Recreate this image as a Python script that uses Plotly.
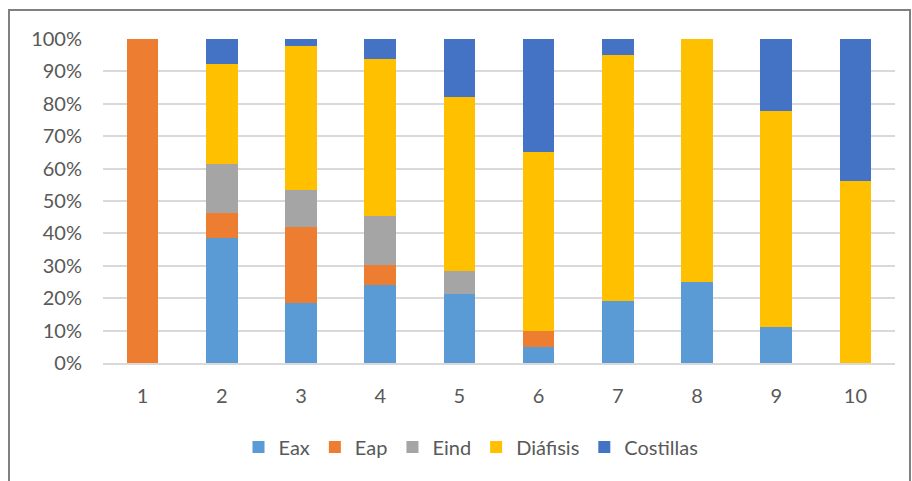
import plotly.graph_objects as go

categories = ["1", "2", "3", "4", "5", "6", "7", "8", "9", "10"]
eax = [0, 38.5, 18.6, 24.2, 21.4, 5.0, 19.0, 25.0, 11.1, 0]
eap = [100, 7.7, 23.3, 6.1, 0, 5.0, 0, 0, 0, 0]
eind = [0, 15.4, 11.6, 15.2, 7.1, 0, 0, 0, 0, 0]
diafisis = [0, 30.8, 44.2, 48.5, 53.6, 55.0, 76.2, 75.0, 66.7, 56.3]
costillas = [0, 7.7, 2.3, 6.1, 17.9, 35.0, 4.8, 0, 22.2, 43.8]

series = [
    ("Eax", eax, "#5B9BD5"),
    ("Eap", eap, "#ED7D31"),
    ("Eind", eind, "#A5A5A5"),
    ("Diáfisis", diafisis, "#FFC000"),
    ("Costillas", costillas, "#4472C4"),
]

fig = go.Figure()
for name, vals, col in series:
    fig.add_trace(go.Bar(
        x=categories, y=vals, name=name,
        marker=dict(color=col, line=dict(width=0)),
    ))

W, H = 912, 481
L, R, T, B = 103, 17, 39, 118
pw, ph = W - L - R, H - T - B

def px_x(p):
    return (p - L) / pw

def px_y(p):
    return (H - B - p) / ph

fig.update_layout(
    width=W, height=H,
    margin=dict(l=L, r=R, t=T, b=B, pad=0),
    barmode="stack", barnorm="percent", bargap=0.6,
    plot_bgcolor="white", paper_bgcolor="white",
    font=dict(family="Lato", size=20, color="#595959"),
    showlegend=True,
    legend=dict(orientation="h", x=px_x(471), xanchor="center",
                y=px_y(447), yanchor="middle", itemwidth=30,
                font=dict(size=20, color="#595959"), traceorder="normal"),
    xaxis=dict(showgrid=False, showline=True, linecolor="#d9d9d9", linewidth=1.5,
               ticks="", ticklabelstandoff=14),
    yaxis=dict(range=[0, 100], dtick=10, ticksuffix="%", showgrid=True,
               gridcolor="#d9d9d9", gridwidth=1.5, zeroline=False, showline=False,
               ticklabelstandoff=20),
    shapes=[dict(type="rect", xref="paper", yref="paper",
                 x0=px_x(9), x1=px_x(910), y0=px_y(10), y1=px_y(500),
                 line=dict(color="#808080", width=2), fillcolor="rgba(0,0,0,0)",
                 layer="below")],
)

fig.write_html("out.html")
